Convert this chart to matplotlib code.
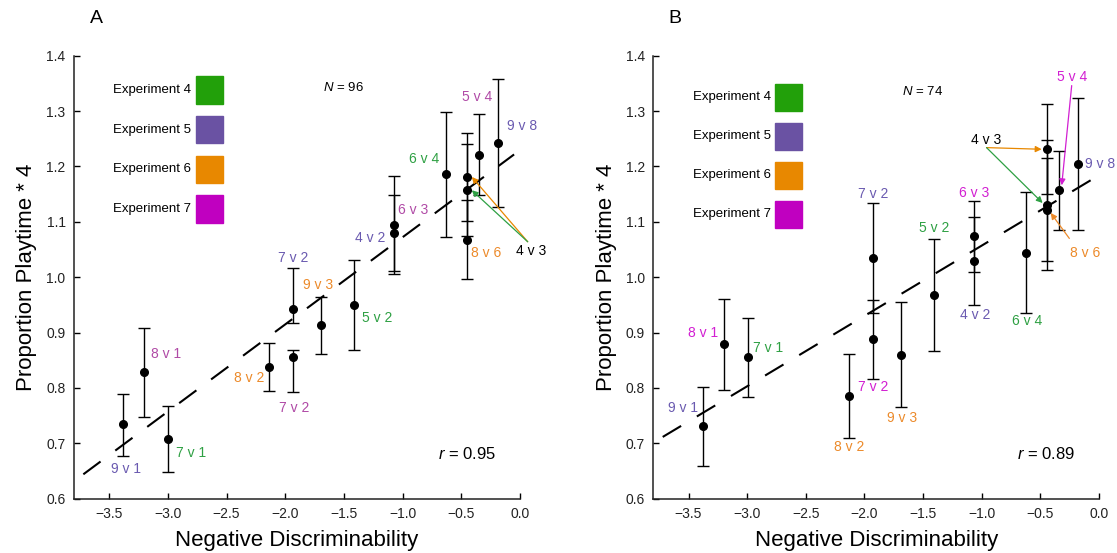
import numpy as np
import matplotlib
matplotlib.use("Agg")
from matplotlib import pyplot as plt
from matplotlib.patches import Rectangle

plt.rcParams['font.family'] = ['Liberation Sans', 'DejaVu Sans']
plt.rcParams['mathtext.fontset'] = 'custom'
plt.rcParams['mathtext.it'] = 'Liberation Sans:italic'
plt.rcParams['mathtext.rm'] = 'Liberation Sans'

# experiment colours (swatches) and label text colours per panel
swatch = {4: '#22a00a', 5: '#6a52a3', 6: '#e88800', 7: '#c000c0'}
text_a = {4: '#2ea043', 5: '#6a5ab0', 6: '#ec8a2a', 7: '#b04aa6', 0: 'black'}
text_b = {4: '#2ea043', 5: '#6a5ab0', 6: '#ec8a2a', 7: '#d21fd2', 0: 'black'}

# ---- panel A data ----
a_names = ['9 v 1', '8 v 1', '7 v 1', '8 v 2', '7 v 2', '7 v 2', '9 v 3', '5 v 2',
           '4 v 2', '6 v 3', '6 v 4', '4 v 3', '4 v 3', '8 v 6', '5 v 4', '9 v 8']
a_exp = [5, 7, 4, 6, 7, 5, 6, 4, 5, 7, 4, 6, 4, 6, 7, 5]
a_x = [-3.386, -3.20, -2.997, -2.137, -1.93, -1.93, -1.693, -1.415,
       -1.072, -1.072, -0.628, -0.449, -0.449, -0.449, -0.347, -0.187]
a_y = [0.734, 0.829, 0.707, 0.838, 0.855, 0.942, 0.913, 0.950,
       1.080, 1.095, 1.186, 1.181, 1.157, 1.068, 1.221, 1.243]
a_lo = [0.678, 0.747, 0.648, 0.795, 0.793, 0.918, 0.861, 0.869,
        1.011, 1.006, 1.073, 1.101, 1.074, 0.996, 1.148, 1.127]
a_hi = [0.789, 0.909, 0.767, 0.881, 0.868, 1.016, 0.965, 1.031,
        1.149, 1.182, 1.299, 1.260, 1.240, 1.139, 1.295, 1.358]

# ---- panel B data ----
b_names = ['9 v 1', '8 v 1', '7 v 1', '8 v 2', '7 v 2', '7 v 2', '9 v 3', '5 v 2',
           '6 v 3', '4 v 2', '6 v 4', '4 v 3', '4 v 3', '8 v 6', '5 v 4', '9 v 8']
b_exp = [5, 7, 4, 6, 7, 5, 6, 4, 7, 5, 4, 6, 4, 6, 7, 5]
b_x = [-3.380, -3.201, -2.994, -2.131, -1.926, -1.926, -1.690, -1.411,
       -1.064, -1.064, -0.623, -0.441, -0.441, -0.441, -0.339, -0.176]
b_y = [0.731, 0.880, 0.855, 0.786, 0.888, 1.034, 0.860, 0.968,
       1.074, 1.029, 1.044, 1.231, 1.130, 1.121, 1.157, 1.204]
b_lo = [0.659, 0.797, 0.783, 0.709, 0.817, 0.936, 0.766, 0.867,
        1.010, 0.949, 0.935, 1.150, 1.013, 1.030, 1.086, 1.086]
b_hi = [0.802, 0.960, 0.927, 0.862, 0.959, 1.134, 0.955, 1.069,
        1.137, 1.108, 1.154, 1.312, 1.248, 1.215, 1.228, 1.323]

a_N, a_r = 96, 0.95
b_N, b_r = 74, 0.89

# label positions (data coords); None = labelled by arrow
a_lab = [(-3.36, 0.653), (-3.017, 0.862), (-2.806, 0.682), (-2.307, 0.818),
         (-1.921, 0.764), (-1.932, 1.034), (-1.719, 0.986), (-1.216, 0.926),
         (-1.279, 1.070), (-0.909, 1.121), (-0.815, 1.214), None, None,
         (-0.287, 1.043), (-0.369, 1.325), (0.014, 1.273)]
b_lab = [(-3.543, 0.764), (-3.375, 0.899), (-2.823, 0.873), (-2.134, 0.693),
         (-1.927, 0.802), (-1.927, 1.151), (-1.679, 0.745), (-1.406, 1.089),
         (-1.064, 1.152), (-1.058, 0.932), (-0.609, 0.920), None, None,
         None, None, (-0.119, 1.204)]

fig = plt.figure(figsize=(11.17, 5.53), dpi=100)
axA = fig.add_axes([0.0662, 0.0982, 0.3993, 0.8011])
axB = fig.add_axes([0.5849, 0.0982, 0.3990, 0.8011])


def panel(ax, x, y, lo, hi, names, exp, labs, tcol, N, r, n_y, leg_y):
    x = np.array(x); y = np.array(y)
    yerr = [y - np.array(lo), np.array(hi) - y]
    k, b = np.polyfit(x, y, 1)
    xx = np.array([-3.72, -0.05])
    ax.plot(xx, k * xx + b, color='black', lw=1.5, dashes=(10.3, 8.8), zorder=1)
    ax.errorbar(x, y, yerr=yerr, fmt='o', color='black', ms=5.5,
                elinewidth=1.0, capsize=4, capthick=1.0, zorder=3)
    for name, e, p in zip(names, exp, labs):
        if p is None:
            continue
        ha = 'left' if p[0] > -0.15 and p[1] < 1.25 and ax is axB else 'center'
        ax.text(p[0], p[1], name, color=tcol[e], fontsize=10, ha=ha, va='center')
    ax.set_xlim(-3.8, 0.0)
    ax.set_ylim(0.6, 1.4)
    ax.set_xticks([-3.5, -3.0, -2.5, -2.0, -1.5, -1.0, -0.5, 0.0])
    ax.set_xticklabels(['\u22123.5', '\u22123.0', '\u22122.5', '\u22122.0',
                        '\u22121.5', '\u22121.0', '\u22120.5', '0.0'])
    ax.set_yticks(np.arange(0.6, 1.41, 0.1))
    ax.set_yticklabels(['%.1f' % v for v in np.arange(0.6, 1.41, 0.1)])
    ax.tick_params(direction='in', length=4, width=1.0, labelsize=10,
                   labelcolor='#222222', pad=6)
    for s in ['top', 'right']:
        ax.spines[s].set_visible(False)
    for s in ['left', 'bottom']:
        ax.spines[s].set_linewidth(1.1)
        ax.spines[s].set_color('#222222')
    ax.set_xlabel('Negative Discriminability', fontsize=16)
    ax.set_ylabel('Proportion Playtime * 4', fontsize=16)
    ax.xaxis.set_label_coords(0.5, -0.071)
    ax.yaxis.set_label_coords(-0.082, 0.5)
    ax.text(-1.505, n_y, r'$N$ = %d' % N, fontsize=9.5, ha='center',
            va='center')
    ax.text(-0.455, 0.68, r'$r$ = %.2f' % r, fontsize=12, ha='center',
            va='center')
    # legend boxes
    for i, e in enumerate([4, 5, 6, 7]):
        yc = leg_y[0] - i * leg_y[1]
        ax.text(0.263, yc, 'Experiment %d' % e, transform=ax.transAxes,
                fontsize=9.5, ha='right', va='center')
        ax.add_patch(Rectangle((0.274, yc - 0.031), 0.06, 0.062,
                               transform=ax.transAxes, color=swatch[e],
                               clip_on=False))


panel(axA, a_x, a_y, a_lo, a_hi, a_names, a_exp, a_lab, text_a, a_N, a_r,
      1.342, (0.9226, 0.0897))
panel(axB, b_x, b_y, b_lo, b_hi, b_names, b_exp, b_lab, text_b, b_N, b_r,
      1.335, (0.906, 0.088))

arw = dict(arrowstyle='-|>', lw=0.9, mutation_scale=9, shrinkA=0, shrinkB=0)

# panel A: 4 v 3 arrows
axA.text(0.094, 1.047, '4 v 3', fontsize=10, ha='center', va='center',
         clip_on=False)
axA.annotate('', xy=(-0.41, a_y[11]), xytext=(0.066, 1.064),
             arrowprops=dict(arw, color=swatch[6]), annotation_clip=False)
axA.annotate('', xy=(-0.41, a_y[12]), xytext=(0.066, 1.064),
             arrowprops=dict(arw, color='#2ea043'), annotation_clip=False)

# panel B arrows
axB.text(-0.965, 1.247, '4 v 3', fontsize=10, ha='center', va='center')
axB.annotate('', xy=(-0.489, b_y[11]), xytext=(-0.959, 1.234),
             arrowprops=dict(arw, color=swatch[6]))
axB.annotate('', xy=(-0.481, b_y[12] + 0.004), xytext=(-0.959, 1.234),
             arrowprops=dict(arw, color='#2ea043'))
axB.text(-0.233, 1.362, '5 v 4', fontsize=10, ha='center', va='center',
         color=text_b[7])
axB.annotate('', xy=(-0.318, 1.166), xytext=(-0.233, 1.346),
             arrowprops=dict(arw, color=text_b[7]))
axB.text(-0.119, 1.043, '8 v 6', fontsize=10, ha='center', va='center',
         color=text_b[6])
axB.annotate('', xy=(-0.412, 1.116), xytext=(-0.253, 1.070),
             arrowprops=dict(arw, color=text_b[6]))

fig.text(0.086, 0.967, 'A', fontsize=14, ha='center', va='center')
fig.text(0.604, 0.967, 'B', fontsize=14, ha='center', va='center')

fig.savefig('out.png', dpi=100)
